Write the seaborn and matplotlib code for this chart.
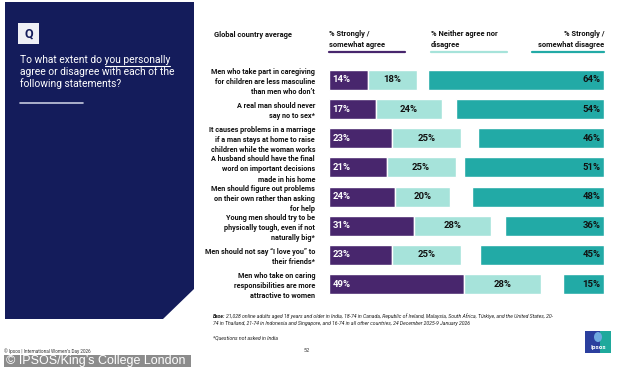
import numpy as np
import pandas as pd
import matplotlib.pyplot as plt
import seaborn as sns
from matplotlib.patches import Polygon, Rectangle, Ellipse
from matplotlib.lines import Line2D

# Survey data (global country average, %)
statements = [
    "Men who take part in caregiving\nfor children are less masculine\nthan men who don\u2019t",
    "A real man should never\nsay no to sex*",
    "It causes problems in a marriage\nif a man stays at home to raise\nchildren while the woman works",
    "A husband should have the final\nword on important decisions\nmade in his home",
    "Men should figure out problems\non their own rather than asking\nfor help",
    "Young men should try to be\nphysically tough, even if not\nnaturally big*",
    "Men should not say \u201cI love you\u201d to\ntheir friends*",
    "Men who take on caring\nresponsibilities are more\nattractive to women",
]
agree = [14, 17, 23, 21, 24, 31, 23, 49]
neither = [18, 24, 25, 25, 20, 28, 25, 28]
disagree = [64, 54, 46, 51, 48, 36, 45, 15]

PURPLE = "#48266d"
LIGHT = "#a6e3da"
TEAL = "#22aaa6"
NAVY = "#141c5b"

sns.set_theme(style="white")
plt.rcParams['font.family'] = ['Roboto', 'DejaVu Sans']

df = pd.DataFrame({
    'statement': statements,
    'agree': agree,
    'neither': neither,
    'disagree': disagree,
})
df['disagree_left'] = 100 - df['disagree']

W, H = 634, 367
fig = plt.figure(figsize=(W / 100, H / 100), dpi=100)


def fx(px):
    return px / W


def fy(py):
    return 1 - py / H


# left navy panel
panel = Polygon([(fx(5), fy(2)), (fx(194), fy(2)), (fx(194), fy(289)),
                 (fx(163), fy(319)), (fx(5), fy(319))],
                closed=True, facecolor=NAVY, edgecolor='none', transform=fig.transFigure)
fig.add_artist(panel)
fig.add_artist(Rectangle((fx(18), fy(44)), 21 / W, 21 / H, facecolor="#eeeff5",
                         edgecolor='none', transform=fig.transFigure))
fig.text(fx(28.5), fy(33.5), "Q", color=NAVY, fontsize=9, fontweight='bold',
         ha='center', va='center')

q1 = fig.text(fx(20), fy(60), "To what extent do you personally", color='white',
              fontsize=7.4, va='center')
q0 = fig.text(fx(20), fy(60), "To what extent do ", color='white', alpha=0,
              fontsize=7.4, va='center')
fig.text(fx(20), fy(72), "agree or disagree with each of the", color='white',
         fontsize=7.4, va='center')
fig.text(fx(20), fy(84), "following statements?", color='white',
         fontsize=7.4, va='center')
renderer = fig.canvas.get_renderer()
b0 = q0.get_window_extent(renderer)
b1 = q1.get_window_extent(renderer)
fig.add_artist(Line2D([b0.x1 / W, b1.x1 / W], [(b1.y0 - 0.5) / H] * 2,
                      color='white', lw=0.8, transform=fig.transFigure))
fig.add_artist(Line2D([fx(20), fx(83)], [fy(103)] * 2, color="#c5c9de", lw=1.2,
                      transform=fig.transFigure))

# bars
ax = fig.add_axes([fx(329), fy(298.6), 275 / W, 233.2 / H])
bar_kw = dict(orient='h', width=0.69, saturation=1, edgecolor='white',
              linewidth=1.0, ax=ax, errorbar=None)
sns.barplot(data=df, x='agree', y='statement', color=PURPLE, **bar_kw)
sns.barplot(data=df, x='neither', y='statement', color=LIGHT,
            left=df['agree'].to_numpy(), **bar_kw)
sns.barplot(data=df, x='disagree', y='statement', color=TEAL,
            left=df['disagree_left'].to_numpy(), **bar_kw)

ax.set_xlim(0, 100)
ax.set_ylim(7.5, -0.5)
sns.despine(ax=ax, left=True, bottom=True)
ax.set_xticks([])
ax.set_xlabel('')
ax.set_ylabel('')
ax.tick_params(axis='y', length=0, pad=10)
for lab in ax.get_yticklabels():
    lab.set_fontsize(5.2)
    lab.set_fontweight('bold')
    lab.set_color('#111111')
    lab.set_linespacing(1.35)

for i in range(len(statements)):
    ax.text(1.2, i, f"{agree[i]}%", color='white', fontsize=6.8,
            fontweight='bold', ha='left', va='center')
    ax.text(agree[i] + neither[i] / 2, i, f"{neither[i]}%", color='#111111',
            fontsize=6.8, fontweight='bold', ha='center', va='center')
    ax.text(98.8, i, f"{disagree[i]}%", color='#111111', fontsize=6.8,
            fontweight='bold', ha='right', va='center')

# column headers
hdr = dict(fontsize=5.4, fontweight='bold', color='#111111', va='center',
           linespacing=1.35)
fig.text(fx(214), fy(35), "Global country average", ha='left', **hdr)
fig.text(fx(329), fy(39.5), "% Strongly /\nsomewhat agree", ha='left', **hdr)
fig.text(fx(431), fy(39.5), "% Neither agree nor\ndisagree", ha='left', **hdr)
fig.text(fx(604), fy(39.5), "% Strongly /\nsomewhat disagree", ha='right',
         multialignment='right', **hdr)
for x0, x1, c in [(329, 405, PURPLE), (431, 507, LIGHT), (532, 604, TEAL)]:
    fig.add_artist(Line2D([fx(x0), fx(x1)], [fy(52)] * 2, color=c, lw=1.6,
                          transform=fig.transFigure))

# footnotes
foot = dict(fontsize=3.7, style='italic', color='#222222', va='center')
bb = fig.text(fx(213), fy(316), "Base:", fontweight='bold', **foot)
bx = bb.get_window_extent(renderer).x1
fig.text(bx / W + 1 / W, fy(316),
         "21,028 online adults aged 18 years and older in India, 18-74 in Canada, "
         "Republic of Ireland, Malaysia, South Africa, T\u00fcrkiye, and the United States, 20-",
         **foot)
fig.text(fx(213), fy(323.5),
         "74 in Thailand, 21-74 in Indonesia and Singapore, and 16-74 in all other countries, "
         "24 December 2025-9 January 2026", **foot)
fig.text(fx(213), fy(338), "*Questions not asked in India", **foot)
fig.text(fx(307), fy(351), "52", fontsize=4, color='#333333', ha='center', va='center')

# Ipsos logo
fig.add_artist(Rectangle((fx(585), fy(353)), 26 / W, 22 / H, facecolor="#2b3f9e",
                         edgecolor='none', transform=fig.transFigure))
fig.add_artist(Rectangle((fx(600), fy(353)), 11 / W, 22 / H, facecolor="#1fa99c",
                         edgecolor='none', transform=fig.transFigure))
fig.add_artist(Ellipse((fx(598), fy(337)), 8 / W, 10 / H, facecolor="#6fa9e0",
                       edgecolor='none', transform=fig.transFigure))
fig.text(fx(598), fy(347), "Ipsos", fontsize=4.6, fontweight='bold', color='white',
         ha='center', va='center')

# credit strip
fig.text(fx(4), fy(351), "\u00a9 Ipsos | International Women\u2019s Day 2026",
         fontsize=3.3, color='#333333', va='center')
fig.add_artist(Rectangle((fx(4), fy(367)), 187 / W, 12 / H, facecolor="#8c8c8c",
                         edgecolor='none', transform=fig.transFigure))
fig.text(fx(6), fy(361), "\u00a9 IPSOS/King\u2019s College London", fontsize=9,
         color='white', family=['Liberation Sans', 'DejaVu Sans'], va='center')

fig.savefig("out.png", dpi=100)
